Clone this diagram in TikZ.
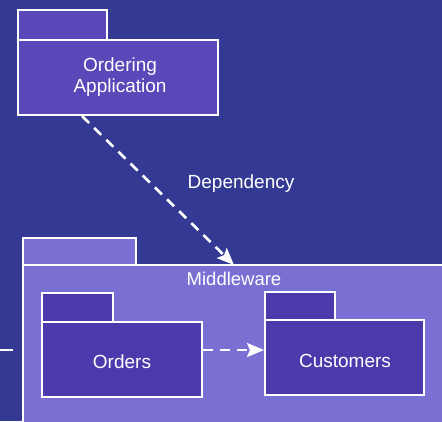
\documentclass[tikz,border=0pt]{standalone}
\usepackage{fontspec}
\setmainfont{Liberation Sans}
\usetikzlibrary{arrows.meta}
\definecolor{bgblue}{RGB}{52,58,148}
\definecolor{appfill}{RGB}{88,72,184}
\definecolor{midfill}{RGB}{122,112,212}
\definecolor{pkgfill}{RGB}{76,58,172}
\tikzset{
  x=1pt, y=-1pt,
  pkgpart/.style={draw=white, line width=2.2pt},
  lbl/.style={text=white, font=\fontsize{19}{21}\selectfont, align=center},
  dep/.style={draw=white, line width=2.6pt, dash pattern=on 10pt off 7pt, -{Stealth[length=17pt,width=14pt,inset=3pt]}}
}
\begin{document}
\begin{tikzpicture}
\fill[bgblue] (0,0) rectangle (442,421);
\useasboundingbox (0,0) rectangle (442,421);
% Ordering Application
\filldraw[pkgpart, fill=appfill] (18,10) rectangle (107,40);
\filldraw[pkgpart, fill=appfill] (18,40) rectangle (218,115);
\node[lbl] (app) at (120,77) {Ordering\\Application};
\coordinate (appbot) at (82,116);
% Middleware
\filldraw[pkgpart, fill=midfill] (23,238) rectangle (136,265);
\filldraw[pkgpart, fill=midfill] (23,265) rectangle (446,425);
\node[lbl, font=\fontsize{18.5}{21}\selectfont] (mid) at (234,279) {Middleware};
\coordinate (midtop) at (234,265);
% Orders
\filldraw[pkgpart, fill=pkgfill] (42,293) rectangle (113,322);
\filldraw[pkgpart, fill=pkgfill] (42,322) rectangle (202,397);
\node[lbl] (orders) at (122,362) {Orders};
\coordinate (ordr) at (203,350);
% Customers
\filldraw[pkgpart, fill=pkgfill] (265,292) rectangle (335,320);
\filldraw[pkgpart, fill=pkgfill] (265,320) rectangle (424,395);
\node[lbl] (cust) at (345,361) {Customers};
\coordinate (custl) at (264,350);
% Dependencies
\draw[dep] (appbot) -- (midtop);
\node[lbl] (deplbl) at (241,184) {Dependency};
\draw[dep] (ordr) -- (custl);
% stray line at left
\coordinate (s1) at (0,350);
\coordinate (s2) at (13,350);
\draw[white, line width=2.2pt] (s1) -- (s2);
\end{tikzpicture}
\end{document}
